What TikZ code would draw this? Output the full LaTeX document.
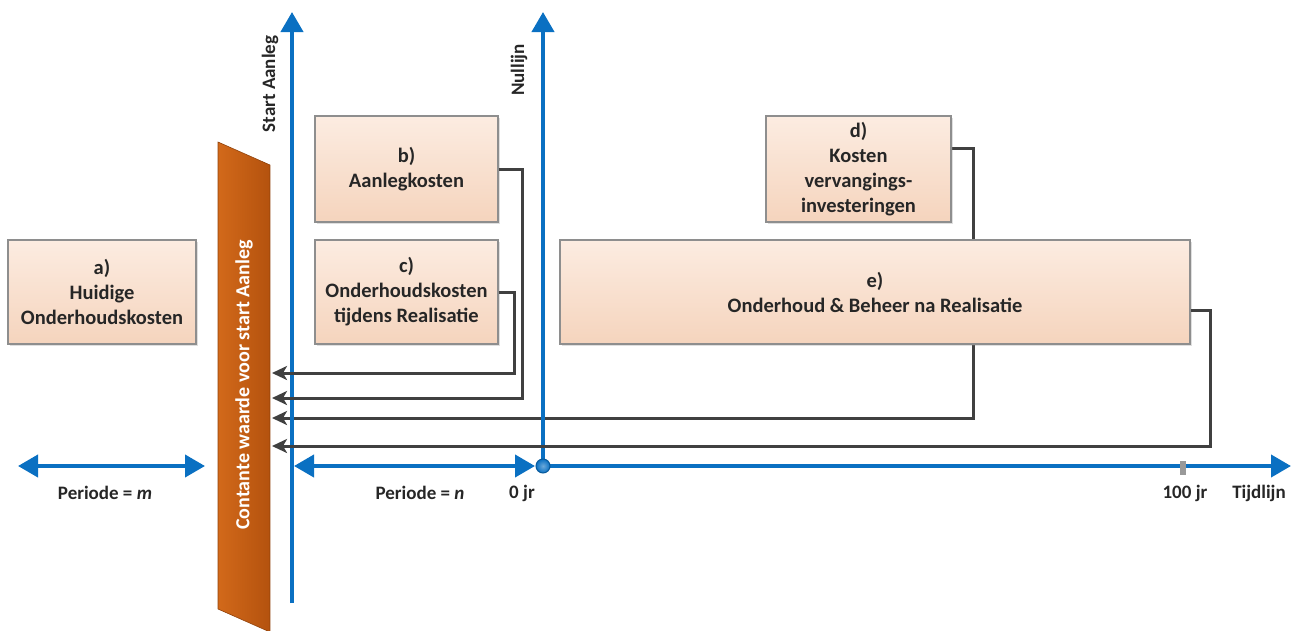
\documentclass[tikz,border=0pt]{standalone}
\usepackage{fontspec}
\setmainfont{Carlito}
\usetikzlibrary{arrows.meta,shadows,backgrounds}
\definecolor{axisblue}{HTML}{0A70C2}
\definecolor{conngray}{HTML}{404040}
\definecolor{boxtop}{HTML}{FCECE1}
\definecolor{boxbot}{HTML}{F5D4BD}
\definecolor{boxborder}{HTML}{8E8E8E}
\definecolor{txt}{HTML}{262626}
\definecolor{orL}{HTML}{D2691A}
\definecolor{orR}{HTML}{B4520E}
\tikzset{
  costbox/.style={draw=boxborder, line width=1.3pt, top color=boxtop, bottom color=boxbot,
    align=center, font=\bfseries\fontsize{20.5}{25}\selectfont, text=txt, inner sep=0pt,
    drop shadow={shadow xshift=2pt, shadow yshift=-2pt, opacity=0.25}},
  blueaxis/.style={draw=axisblue, line width=4pt, -{Triangle[length=20pt,width=22pt]}},
  bluedbl/.style={draw=axisblue, line width=4pt, {Triangle[length=20pt,width=22pt]}-{Triangle[length=20pt,width=22pt]}},
  conn/.style={draw=conngray, line width=3pt, -{Stealth[length=15pt,width=14pt,inset=4pt]}},
  lbl/.style={font=\bfseries\fontsize{19}{22}\selectfont, text=txt},
}
\begin{document}
\begin{tikzpicture}[x=1pt,y=-1pt]
\useasboundingbox (0,0) rectangle (1291,630);
% Contante waarde parallelogram
\path[left color=orL, right color=orR, draw=orR!80!black, line width=0.6pt]
  (218,142) -- (270,165) -- (270,632) -- (218,609) -- cycle;
\node[rotate=90, text=white, font=\bfseries\fontsize{20}{22}\selectfont, minimum width=52pt] (cw) at (244,385) {Contante waarde voor start Aanleg};
% arrow targets
\coordinate (tc) at (272,373);
\coordinate (tb) at (272,398);
\coordinate (td) at (272,418);
\coordinate (te) at (272,446);
% axes
\coordinate (sa0) at (292,603);
\coordinate (sa1) at (292,12);
\coordinate (zero) at (543,466);
\coordinate (nl1) at (543,12);
\coordinate (tl1) at (1291,466);
\draw[blueaxis] (sa0) -- (sa1);
\draw[blueaxis] (zero) -- (nl1);
\draw[blueaxis] (zero) -- (tl1);
\coordinate (m0) at (18,466);
\coordinate (m1) at (205,466);
\coordinate (n0) at (294,466);
\coordinate (n1) at (535,466);
\draw[bluedbl] (m0) -- (m1);
\draw[bluedbl] (n0) -- (n1);
\node[circle, draw=axisblue!80!black, line width=1pt, minimum size=14pt, inner sep=0pt, inner color=axisblue!60!white, outer color=axisblue] (zc) at (zero) {};
\coordinate (tk0) at (1183,461);
\coordinate (tk1) at (1183,475);
\draw[draw=gray!80, line width=6pt] (tk0) -- (tk1);
% axis labels
\node[lbl, rotate=90] (lsa) at (270,84) {Start Aanleg};
\node[lbl, rotate=90] (lnl) at (519,70) {Nullijn};
\node[lbl] (lm) at (105,493) {Periode = \textit{m}};
\node[lbl] (ln) at (420,493) {Periode = \textit{n}};
\node[lbl] (l0) at (522,493) {0 jr};
\node[lbl] (l100) at (1185,493) {100 jr};
\node[lbl] (ltl) at (1259,493) {Tijdlijn};
% boxes
\node[costbox, minimum width=188pt, minimum height=104pt] (a) at (102,292) {a)\\Huidige\\Onderhoudskosten};
\node[costbox, minimum width=183pt, minimum height=106pt] (b) at (406.5,169) {b)\\Aanlegkosten};
\node[costbox, minimum width=183pt, minimum height=104pt] (c) at (406.5,292) {c)\\Onderhoudskosten\\tijdens Realisatie};
\node[costbox, minimum width=185pt, minimum height=106pt] (d) at (858.5,169) {d)\\Kosten\\vervangings-\\investeringen};
\node[costbox, minimum width=630pt, minimum height=104pt] (e) at (875,292) {e)\\Onderhoud \& Beheer na Realisatie};
% connector d passes behind e
\begin{scope}[on background layer]
\draw[conn] ([yshift=21pt]d.east) -- (973,148) -- (973,418) -- (td);
\end{scope}
% connectors
\draw[conn] (b.east) -- (522,169) -- (522,398) -- (tb);
\draw[conn] (c.east) -- (514,292) -- (514,373) -- (tc);
\draw[conn] ([yshift=-18pt]e.east) -- (1210,310) -- (1210,446) -- (te);
\end{tikzpicture}
\end{document}
